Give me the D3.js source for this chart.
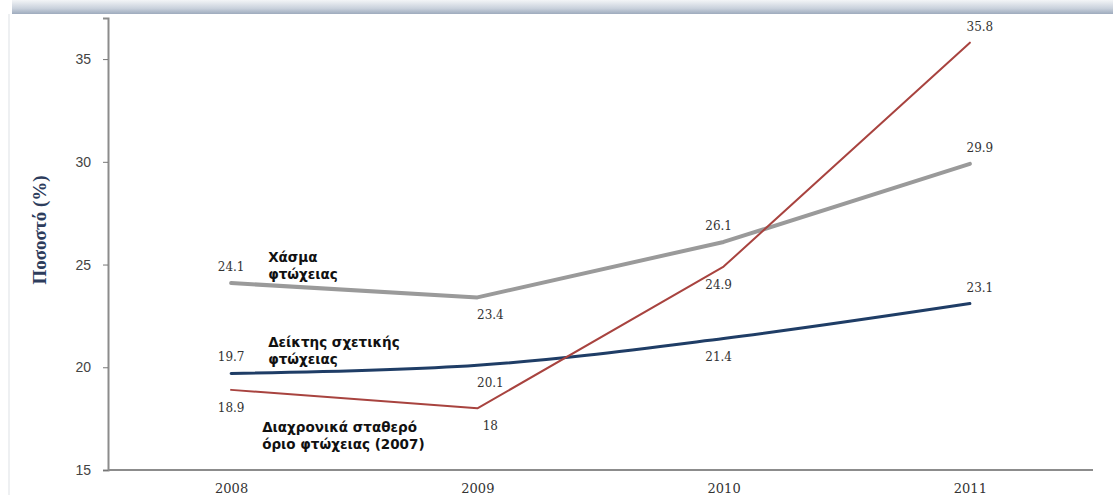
<!DOCTYPE html>
<html>
<head>
<meta charset="utf-8">
<style>
  body { margin: 0; background: #fff; }
  svg { display: block; }
</style>
</head>
<body>
<svg width="1113" height="495"></svg>
<script src="https://d3js.org/d3.v7.min.js"></script>
<script>
  // data
  var years = [2008, 2009, 2010, 2011];
  var gapValues = [24.1, 23.4, 26.1, 29.9];        // Χάσμα φτώχειας
  var relativeValues = [19.7, 20.1, 21.4, 23.1];   // Δείκτης σχετικής φτώχειας
  var fixedValues = [18.9, 18, 24.9, 35.8];        // Διαχρονικά σταθερό όριο
  var yTicks = [15, 20, 25, 30, 35];
  // where each value label sits: a = above the point, b = below
  var gapSides = ['a', 'b', 'a', 'a'];
  var relativeSides = ['a', 'b', 'b', 'a'];
  var fixedSides = ['b', 'b', 'b', 'a'];

  var svg = d3.select("svg"),
    margin = { top: 18, right: 20, bottom: 25, left: 108 },
    width = +svg.attr("width") - margin.left - margin.right,
    height = +svg.attr("height") - margin.top - margin.bottom;

  // header band at the top
  var defs = svg.append("defs");
  var grad = defs.append("linearGradient").attr("id", "band")
    .attr("x1", 0).attr("y1", 0).attr("x2", 0).attr("y2", 1);
  grad.append("stop").attr("offset", "0%").attr("stop-color", "#f3f5f7");
  grad.append("stop").attr("offset", "60%").attr("stop-color", "#c9d1dc");
  grad.append("stop").attr("offset", "100%").attr("stop-color", "#9eabbd");
  svg.append("rect").attr("x", 12).attr("y", 0).attr("width", 1101).attr("height", 14)
    .attr("fill", "url(#band)");
  svg.append("line").attr("x1", 9).attr("x2", 9).attr("y1", 14).attr("y2", 495)
    .attr("stroke", "#eef0f2").attr("stroke-width", 2);

  var g = svg.append("g").attr("transform", "translate(" + margin.left + "," + margin.top + ")");

  var x = d3.scalePoint().domain(years).range([0, width]).padding(0.5);
  var y = d3.scaleLinear().domain([15, 37]).range([height, 0]);

  // y axis
  var yAxis = g.append("g")
    .call(d3.axisLeft(y).tickValues(yTicks).tickSize(5).tickPadding(12));
  yAxis.select(".domain").attr("stroke", "#8c8c8c").attr("stroke-width", 2);
  yAxis.selectAll(".tick line").attr("stroke", "#777");
  yAxis.selectAll("text")
    .attr("font-family", "Liberation Sans, Arial, sans-serif")
    .attr("font-size", 14).attr("fill", "#444");

  // x axis
  var xAxis = g.append("g")
    .attr("transform", "translate(0," + height + ")")
    .call(d3.axisBottom(x).tickSize(0).tickPadding(14));
  xAxis.select(".domain").attr("stroke", "#8c8c8c").attr("stroke-width", 2)
    .attr("d", "M0,0H" + width);
  xAxis.selectAll("text")
    .attr("font-family", "DejaVu Serif, serif")
    .attr("font-size", 13).attr("fill", "#333");

  // y axis title
  svg.append("text")
    .attr("transform", "translate(46,230) rotate(-90)")
    .attr("text-anchor", "middle")
    .attr("font-family", "Liberation Serif, serif")
    .attr("font-weight", "bold")
    .attr("font-size", 19)
    .attr("fill", "#2d3c5c")
    .text("Ποσοστό (%)");

  var series = [
    { values: gapValues, sides: gapSides, color: "#9a9a9a", width: 4, curve: d3.curveLinear },
    { values: relativeValues, sides: relativeSides, color: "#1f3d66", width: 3, curve: d3.curveMonotoneX },
    { values: fixedValues, sides: fixedSides, color: "#a8433f", width: 2, curve: d3.curveLinear }
  ];

  series.forEach(function (s) {
    var pts = years.map(function (yr, i) { return { year: yr, value: s.values[i], side: s.sides[i] }; });
    var line = d3.line()
      .x(function (d) { return x(d.year); })
      .y(function (d) { return y(d.value); })
      .curve(s.curve);
    g.append("path")
      .datum(pts)
      .attr("fill", "none")
      .attr("stroke", s.color)
      .attr("stroke-width", s.width)
      .attr("stroke-linejoin", "round")
      .attr("stroke-linecap", "round")
      .attr("d", line);

    g.selectAll(null)
      .data(pts)
      .enter().append("text")
      .attr("x", function (d, i) { return x(d.year) + (i === 1 ? 13 : (i === 3 ? 10 : (i === 2 ? -5 : 0))); })
      .attr("y", function (d) { return y(d.value) + (d.side === 'a' ? -12 : 22); })
      .attr("text-anchor", "middle")
      .attr("font-family", "DejaVu Serif, serif")
      .attr("font-size", 12)
      .attr("fill", "#333")
      .text(function (d) { return d.value; });
  });

  // series names
  var names = [
    { lines: ["Χάσμα", "φτώχειας"], value: gapValues[0], dx: 37, dy: -21 },
    { lines: ["Δείκτης σχετικής", "φτώχειας"], value: relativeValues[0], dx: 37, dy: -26 },
    { lines: ["Διαχρονικά σταθερό", "όριο φτώχειας (2007)"], value: fixedValues[0], dx: 31, dy: 42 }
  ];
  names.forEach(function (n) {
    var t = g.append("text")
      .attr("font-family", "DejaVu Sans, sans-serif")
      .attr("font-weight", "bold")
      .attr("font-size", 13.5)
      .attr("fill", "#111");
    n.lines.forEach(function (l, i) {
      t.append("tspan")
        .attr("x", x(years[0]) + n.dx)
        .attr("y", y(n.value) + n.dy + i * 17)
        .text(l);
    });
  });
</script>
</body>
</html>
